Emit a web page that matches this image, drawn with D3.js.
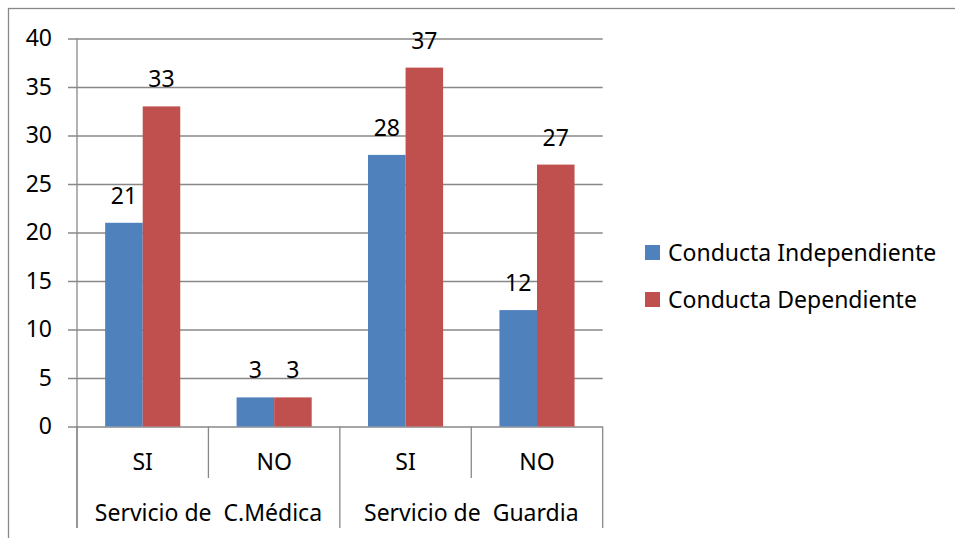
<!DOCTYPE html>
<html>
<head>
<meta charset="utf-8">
<script src="https://cdn.jsdelivr.net/npm/d3@7"></script>
<style>
  body { margin: 0; background: #fff; }
  svg { display: block; font-family: "Noto Sans", sans-serif; }
</style>
</head>
<body>
<svg id="chart" width="955" height="538"></svg>
<script>
// data
var subCats = ["SI", "NO", "SI", "NO"]
var catGroup = [0, 0, 1, 1]
var groups = ["Servicio de\u00a0 C.Médica", "Servicio de\u00a0 Guardia"]
var seriesNames = ["Conducta Independiente", "Conducta Dependiente"]
var independiente = [21, 3, 28, 12]
var dependiente = [33, 3, 37, 27]
var yTicks = [0, 5, 10, 15, 20, 25, 30, 35, 40]
var colors = ["#4F81BD", "#C0504D"]

var series = [independiente, dependiente]
var grid = "#888888"
var fs = 23

var svg = d3.select("#chart")

// chart frame (cut off at the right and bottom)
svg.append("rect")
  .attr("x", 8.5).attr("y", 8.5)
  .attr("width", 1000).attr("height", 600)
  .attr("fill", "none").attr("stroke", grid).attr("stroke-width", 1.3)

var plotLeft = 77, plotRight = 602.7, plotTop = 38.5, plotBottom = 426.5

var x = d3.scaleBand().domain(d3.range(subCats.length)).range([plotLeft, plotRight]).padding(0)
var x1 = d3.scaleBand().domain(d3.range(series.length)).range([0, x.bandwidth()])
  .paddingInner(0).paddingOuter(0.75)
var y = d3.scaleLinear().domain([0, 40]).range([plotBottom, plotTop])

// y axis with gridlines
var yAxis = svg.append("g")
  .attr("transform", "translate(68,0)")
  .call(d3.axisLeft(y).tickValues(yTicks).tickSizeInner(-(plotRight - 68)).tickSizeOuter(0).tickPadding(16))
yAxis.select(".domain").remove()
yAxis.selectAll(".tick line").attr("stroke", grid).attr("stroke-width", 1.3)
yAxis.selectAll(".tick text").attr("font-size", fs).attr("font-family", "Noto Sans").attr("fill", "#000")

// bars
var bars = svg.append("g")
series.forEach(function(vals, s) {
  bars.selectAll(".b" + s).data(vals).enter().append("rect")
    .attr("x", function(d, i) { return x(i) + x1(s) })
    .attr("y", function(d) { return y(d) })
    .attr("width", x1.bandwidth())
    .attr("height", function(d) { return plotBottom - y(d) })
    .attr("fill", colors[s])

  bars.selectAll(".l" + s).data(vals).enter().append("text")
    .attr("x", function(d, i) { return x(i) + x1(s) + x1.bandwidth() / 2 })
    .attr("y", function(d) { return y(d) - 19 })
    .attr("text-anchor", "middle")
    .attr("font-size", fs)
    .text(function(d) { return d })
})

// vertical axis line
svg.append("line")
  .attr("x1", plotLeft).attr("x2", plotLeft).attr("y1", plotTop).attr("y2", 528)
  .attr("stroke", grid).attr("stroke-width", 1.3)

// category separators
var edges = d3.range(subCats.length + 1)
svg.selectAll(".sep").data(edges).enter().append("line")
  .attr("x1", function(i) { return i < subCats.length ? x(i) : plotRight })
  .attr("x2", function(i) { return i < subCats.length ? x(i) : plotRight })
  .attr("y1", plotBottom)
  .attr("y2", function(i) {
    var isGroupEdge = i === 0 || i === subCats.length || catGroup[i] !== catGroup[i - 1]
    return isGroupEdge ? 528 : 478
  })
  .attr("stroke", grid).attr("stroke-width", 1.3)

// category labels
svg.selectAll(".cat").data(subCats).enter().append("text")
  .attr("x", function(d, i) { return x(i) + x.bandwidth() / 2 })
  .attr("y", 469.5)
  .attr("text-anchor", "middle")
  .attr("font-size", fs)
  .text(function(d) { return d })

svg.selectAll(".grp").data(groups).enter().append("text")
  .attr("x", function(d, g) {
    var idx = d3.range(subCats.length).filter(function(i) { return catGroup[i] === g })
    return (x(idx[0]) + x(idx[idx.length - 1]) + x.bandwidth()) / 2
  })
  .attr("y", 521)
  .attr("text-anchor", "middle")
  .attr("font-size", fs)
  .text(function(d) { return d })

// legend
var legend = svg.selectAll(".leg").data(seriesNames).enter().append("g")
  .attr("transform", function(d, i) { return "translate(645," + (245 + i * 47) + ")" })
legend.append("rect").attr("width", 15).attr("height", 15)
  .attr("fill", function(d, i) { return colors[i] })
legend.append("text")
  .attr("x", 23).attr("y", 7.5).attr("dy", "0.36em")
  .attr("font-size", fs)
  .text(function(d) { return d })
</script>
</body>
</html>
